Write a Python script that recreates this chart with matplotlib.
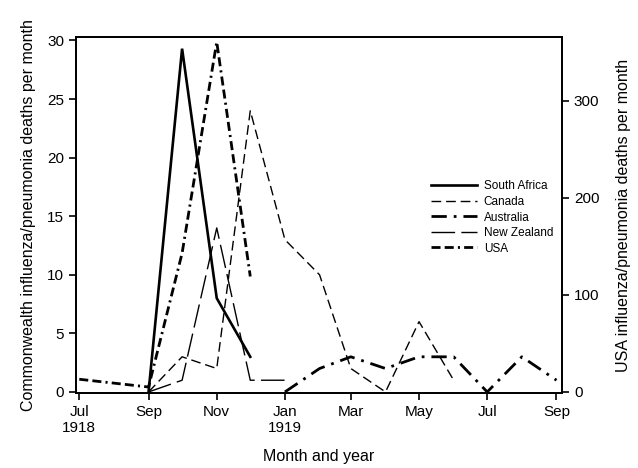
"""Monthly influenza/pneumonia deaths, Commonwealth countries vs USA, 1918-1919"""
import numpy as np
import matplotlib
matplotlib.use('Agg')
import matplotlib.pyplot as plt

plt.rcParams['font.family'] = ['Liberation Sans', 'DejaVu Sans']
plt.rcParams['lines.scale_dashes'] = False

# ============================================================================
# DATA (first day of each month)
# ============================================================================
sa_dates = np.array(['1918-09-01', '1918-10-01', '1918-11-01', '1918-12-01'], dtype='datetime64[D]')
sa_vals = [0, 29.3, 8, 3]

canada_dates = np.array(['1918-09-01', '1918-10-01', '1918-11-01', '1918-12-01', '1919-01-01',
                         '1919-02-01', '1919-03-01', '1919-04-01', '1919-05-01', '1919-06-01'],
                        dtype='datetime64[D]')
canada_vals = [0, 3, 2, 24, 13, 10, 2, 0, 6, 1]

aus_dates = np.array(['1919-01-01', '1919-02-01', '1919-03-01', '1919-04-01', '1919-05-01',
                      '1919-06-01', '1919-07-01', '1919-08-01', '1919-09-01'], dtype='datetime64[D]')
aus_vals = [0, 2, 3, 2, 3, 3, 0, 3, 1]

nz_dates = np.array(['1918-09-01', '1918-10-01', '1918-11-01', '1918-12-01', '1919-01-01'],
                    dtype='datetime64[D]')
nz_vals = [0, 1, 14, 1, 1]

usa_dates = np.array(['1918-07-01', '1918-08-01', '1918-09-01', '1918-10-01', '1918-11-01',
                      '1918-12-01'], dtype='datetime64[D]')
usa_vals = [13, 9, 5, 143, 361, 119]

tick_dates = np.array(['1918-07-01', '1918-09-01', '1918-11-01', '1919-01-01', '1919-03-01',
                       '1919-05-01', '1919-07-01', '1919-09-01'], dtype='datetime64[D]')
tick_labels = ['Jul\n1918', 'Sep', 'Nov', 'Jan\n1919', 'Mar', 'May', 'Jul', 'Sep']

# ============================================================================
# PLOTTING
# ============================================================================
fig = plt.figure(figsize=(6.38, 4.68), dpi=100)
ax = fig.add_axes([0.119, 0.160, 0.762, 0.761])
ax2 = ax.twinx()

l_sa, = ax.plot(sa_dates, sa_vals, color='black', lw=1.9, solid_joinstyle='miter',
                label='South Africa')
l_ca, = ax.plot(canada_dates, canada_vals, color='black', lw=1.0, dashes=(7, 3.5),
                label='Canada')
l_au, = ax.plot(aus_dates, aus_vals, color='black', lw=2.0, dashes=(11, 5, 2, 5),
                label='Australia')
l_nz, = ax.plot(nz_dates, nz_vals, color='black', lw=1.0, dashes=(17, 4.5),
                label='New Zealand')
l_us, = ax2.plot(usa_dates, usa_vals, color='black', lw=2.0, dashes=(6.5, 3, 6.5, 3, 1.5, 3),
                 label='USA')

# ============================================================================
# FORMATTING
# ============================================================================
ax.set_xlim(np.datetime64('1918-06-28'), np.datetime64('1919-09-06'))
ax.set_ylim(-0.1, 30.3)
ax2.set_ylim(-1.3, 366)

ax.set_xticks(tick_dates)
ax.set_xticklabels(tick_labels)
ax.set_yticks([0, 5, 10, 15, 20, 25, 30])
ax2.set_yticks([0, 100, 200, 300])

for a in (ax, ax2):
    a.tick_params(labelsize=11, length=5, width=1.2, colors='black')
    for s in a.spines.values():
        s.set_linewidth(1.3)

ax.set_xlabel('Month and year', fontsize=11.5, labelpad=10)
ax.set_ylabel('Commonwealth influenza/pneumonia deaths per month', fontsize=11.5, labelpad=8)
ax2.set_ylabel('USA influenza/pneumonia deaths per month', fontsize=11.5, labelpad=12)

ax2.legend(handles=[l_sa, l_ca, l_au, l_nz, l_us], loc='upper left',
           bbox_to_anchor=(0.708, 0.627), frameon=False, fontsize=8.5,
           handlelength=3.9, handletextpad=0.6, labelspacing=0.3)

plt.savefig('out.png', dpi=100)
